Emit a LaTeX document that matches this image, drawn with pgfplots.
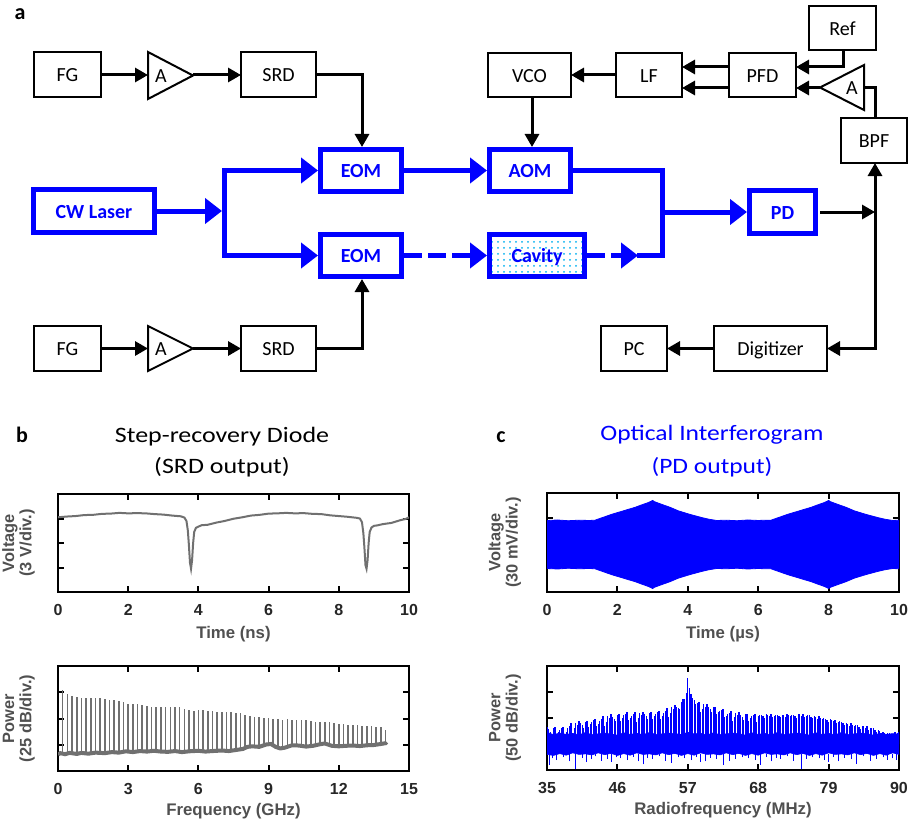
\documentclass[border=0pt]{standalone}
\usepackage{pgfplots}
\pgfplotsset{compat=1.18}
\usepackage{pgfplotstable}
\usepackage{fontspec}
\usepackage{graphicx}
\setmainfont{Carlito}
\newfontfamily\arial{Liberation Sans}
\usetikzlibrary{arrows.meta,patterns}
\definecolor{pblue}{RGB}{0,0,255}
\definecolor{sgray}{RGB}{112,112,112}
\definecolor{dotc}{RGB}{0,176,240}
\definecolor{labg}{RGB}{80,80,80}

\pgfplotstableread{
x y
0 3.05
0.25 3.08
0.5 3.10
0.75 3.14
1.0 3.15
1.25 3.19
1.5 3.20
1.75 3.23
2.0 3.21
2.25 3.22
2.5 3.21
2.75 3.18
3.0 3.16
3.25 3.12
3.5 3.09
3.6 3.04
3.66 2.90
3.70 2.50
3.73 1.90
3.76 1.20
3.79 0.95
3.82 1.30
3.85 2.00
3.88 2.45
3.93 2.62
4.0 2.67
4.1 2.73
4.25 2.74
4.5 2.83
4.75 2.90
5.0 2.99
5.25 3.05
5.5 3.12
5.75 3.15
6.0 3.20
6.25 3.21
6.5 3.23
6.75 3.21
7.0 3.22
7.25 3.19
7.5 3.18
7.75 3.13
8.0 3.10
8.25 3.07
8.5 3.03
8.6 3.00
8.66 2.85
8.70 2.40
8.73 1.80
8.76 1.10
8.79 0.95
8.82 1.30
8.85 2.00
8.88 2.45
8.93 2.63
9.0 2.70
9.1 2.72
9.25 2.77
9.5 2.82
9.75 2.93
9.9 2.98
10.0 3.05
}\srdtime

\pgfplotstableread{
x lo hi
0.2 0.66 3.10
0.4 0.66 2.93
0.6 0.66 2.86
0.8 0.66 2.82
1.0 0.67 2.80
1.2 0.68 2.79
1.4 0.68 2.78
1.6 0.69 2.77
1.8 0.69 2.77
2.0 0.70 2.74
2.2 0.71 2.72
2.4 0.71 2.70
2.6 0.72 2.68
2.8 0.73 2.62
3.0 0.74 2.55
3.2 0.74 2.55
3.4 0.75 2.54
3.6 0.75 2.52
3.8 0.75 2.48
4.0 0.76 2.42
4.2 0.76 2.42
4.4 0.75 2.44
4.6 0.74 2.45
4.8 0.74 2.45
5.0 0.75 2.44
5.2 0.74 2.42
5.4 0.73 2.36
5.6 0.74 2.32
5.8 0.76 2.30
6.0 0.77 2.34
6.2 0.75 2.33
6.4 0.75 2.30
6.6 0.76 2.27
6.8 0.77 2.26
7.0 0.78 2.25
7.2 0.77 2.25
7.4 0.77 2.24
7.6 0.80 2.22
7.8 0.82 2.20
8.0 0.86 2.12
8.2 0.92 2.09
8.4 0.94 2.07
8.6 0.93 2.05
8.8 0.99 2.03
9.0 1.02 2.03
9.2 0.96 2.00
9.4 0.88 1.97
9.6 0.87 1.96
9.8 0.93 1.97
10.0 0.97 1.96
10.2 0.97 1.96
10.4 0.96 1.95
10.6 0.94 1.93
10.8 0.95 1.90
11.0 0.98 1.88
11.2 1.02 1.88
11.4 1.04 1.86
11.6 0.97 1.85
11.8 0.95 1.83
12.0 0.94 1.80
12.2 0.95 1.79
12.4 0.95 1.77
12.6 0.97 1.76
12.8 0.96 1.74
13.0 0.96 1.73
13.2 0.98 1.71
13.4 0.99 1.70
13.6 1.00 1.68
13.8 1.03 1.66
14.0 1.06 1.57
}\srdcomb

\pgfplotstableread{
x y
0.0 0.63
0.1 0.68
0.3 0.64
0.5 0.69
0.8 0.65
1.0 0.69
1.3 0.66
1.6 0.70
2.0 0.68
2.3 0.72
2.6 0.70
2.9 0.75
3.2 0.72
3.5 0.76
3.8 0.74
4.1 0.77
4.4 0.74
4.7 0.73
5.0 0.76
5.3 0.72
5.6 0.75
6.0 0.77
6.3 0.74
6.6 0.76
7.0 0.78
7.3 0.76
7.6 0.80
7.9 0.84
8.1 0.92
8.3 0.94
8.6 0.92
8.9 1.01
9.1 1.03
9.3 0.92
9.5 0.86
9.7 0.89
10.0 0.98
10.3 0.97
10.6 0.93
10.9 0.96
11.2 1.02
11.4 1.05
11.7 0.96
12.0 0.94
12.3 0.96
12.6 0.97
12.9 0.95
13.2 0.98
13.5 0.99
13.8 1.03
14.0 1.06
14.05 1.10
}\srdfloor

\pgfplotstableread{
x lo hi
35.0 1.0 1.65
35.5 1.0 1.48
36.0 1.0 1.61
36.5 1.0 1.37
37.0 1.0 1.55
37.5 1.0 1.67
38.0 1.0 1.48
38.5 1.0 1.69
39.0 1.0 1.44
39.5 1.0 1.81
40.0 1.0 1.87
40.5 1.0 1.72
41.0 1.0 1.86
41.5 1.0 1.64
42.0 1.0 1.85
42.5 1.0 1.97
43.0 1.0 1.77
43.5 1.0 1.96
44.0 1.0 1.70
44.5 1.0 2.07
45.0 1.0 2.14
45.5 1.0 1.98
46.0 1.0 2.12
46.5 1.0 1.90
47.0 1.0 2.10
47.5 1.0 2.22
48.0 1.0 1.99
48.5 1.0 2.15
49.0 1.0 1.86
49.5 1.0 2.20
50.0 1.0 2.24
50.5 1.0 2.07
51.0 1.0 2.20
51.5 1.0 1.97
52.0 1.0 2.17
52.5 1.0 2.28
53.0 1.0 2.07
53.5 1.0 2.27
54.0 1.0 2.03
54.5 1.0 2.42
55.0 1.0 2.50
55.5 1.0 2.38
56.0 1.0 2.60
56.5 1.0 2.75
57.0 1.0 3.53
57.5 1.0 2.93
58.0 1.0 2.70
58.5 1.0 2.56
59.0 1.0 2.22
59.5 1.0 2.53
60.0 1.0 2.55
60.5 1.0 2.35
61.0 1.0 2.43
61.5 1.0 2.15
62.0 1.0 2.28
62.5 1.0 2.34
63.0 1.0 2.08
63.5 1.0 2.21
64.0 1.0 1.89
64.5 1.0 2.21
65.0 1.0 2.23
65.5 1.0 2.03
66.0 1.0 2.14
66.5 1.0 1.89
67.0 1.0 2.06
67.5 1.0 2.15
68.0 1.0 2.08
68.5 1.0 2.12
69.0 1.0 2.01
69.5 1.0 2.13
70.0 1.0 2.14
70.5 1.0 2.09
71.0 1.0 2.12
71.5 1.0 2.05
72.0 1.0 2.11
72.5 1.0 2.15
73.0 1.0 2.07
73.5 1.0 2.12
74.0 1.0 2.01
74.5 1.0 2.14
75.0 1.0 2.14
75.5 1.0 2.08
76.0 1.0 2.10
76.5 1.0 2.00
77.0 1.0 2.04
77.5 1.0 2.06
78.0 1.0 1.96
78.5 1.0 1.98
79.0 1.0 1.84
79.5 1.0 1.94
80.0 1.0 1.93
80.5 1.0 1.85
81.0 1.0 1.85
81.5 1.0 1.75
82.0 1.0 1.78
82.5 1.0 1.80
83.0 1.0 1.69
83.5 1.0 1.72
84.0 1.0 1.58
84.5 1.0 1.69
85.0 1.0 1.68
85.5 1.0 1.61
86.0 1.0 1.60
86.5 1.0 1.48
87.0 1.0 1.49
87.5 1.0 1.48
88.0 1.0 1.38
88.5 1.0 1.43
89.0 1.0 1.32
89.5 1.0 1.45
90.0 1.0 1.47
35.25 1.0 1.56
35.75 1.0 1.39
36.25 1.0 1.64
36.75 1.0 1.47
37.25 1.0 1.61
37.75 1.0 1.38
38.25 1.0 1.61
38.75 1.0 1.79
39.25 1.0 1.60
39.75 1.0 1.74
40.25 1.0 1.79
40.75 1.0 1.63
41.25 1.0 1.90
41.75 1.0 1.76
42.25 1.0 1.91
42.75 1.0 1.68
43.25 1.0 1.89
43.75 1.0 2.06
44.25 1.0 1.86
44.75 1.0 2.01
45.25 1.0 2.05
45.75 1.0 1.89
46.25 1.0 2.16
46.75 1.0 2.01
47.25 1.0 2.16
47.75 1.0 1.91
48.25 1.0 2.09
48.75 1.0 2.23
49.25 1.0 2.00
49.75 1.0 2.12
50.25 1.0 2.15
50.75 1.0 1.98
51.25 1.0 2.24
51.75 1.0 2.08
52.25 1.0 2.23
52.75 1.0 1.98
53.25 1.0 2.19
53.75 1.0 2.38
54.25 1.0 2.20
54.75 1.0 2.36
55.25 1.0 2.43
55.75 1.0 2.33
56.25 1.0 2.72
56.75 1.0 2.95
57.25 1.0 3.15
57.75 1.0 2.78
58.25 1.0 2.55
58.75 1.0 2.61
59.25 1.0 2.35
59.75 1.0 2.44
60.25 1.0 2.44
60.75 1.0 2.23
61.25 1.0 2.44
61.75 1.0 2.23
62.25 1.0 2.31
62.75 1.0 2.02
63.25 1.0 2.17
63.75 1.0 2.28
64.25 1.0 2.02
64.75 1.0 2.12
65.25 1.0 2.12
65.75 1.0 1.93
66.25 1.0 2.17
66.75 1.0 1.99
67.25 1.0 2.11
67.75 1.0 1.84
68.25 1.0 2.12
68.75 1.0 2.06
69.25 1.0 2.14
69.75 1.0 2.08
70.25 1.0 2.02
70.75 1.0 2.12
71.25 1.0 2.08
71.75 1.0 2.12
72.25 1.0 2.05
72.75 1.0 2.10
73.25 1.0 2.11
73.75 1.0 2.06
74.25 1.0 2.14
74.75 1.0 2.09
75.25 1.0 2.02
75.75 1.0 2.11
76.25 1.0 2.04
76.75 1.0 2.06
77.25 1.0 1.97
77.75 1.0 2.00
78.25 1.0 1.99
78.75 1.0 1.91
79.25 1.0 1.96
79.75 1.0 1.88
80.25 1.0 1.80
80.75 1.0 1.87
81.25 1.0 1.79
81.75 1.0 1.81
82.25 1.0 1.71
82.75 1.0 1.74
83.25 1.0 1.72
83.75 1.0 1.65
84.25 1.0 1.70
84.75 1.0 1.63
85.25 1.0 1.55
85.75 1.0 1.62
86.25 1.0 1.53
86.75 1.0 1.53
87.25 1.0 1.41
87.75 1.0 1.42
88.25 1.0 1.42
88.75 1.0 1.37
89.25 1.0 1.45
89.75 1.0 1.41
}\pdcomb

\pgfplotstableread{
x lo hi
35.4 0.19 0.62
35.9 0.45 0.62
36.5 0.38 0.62
37.5 0.50 0.62
38.5 0.33 0.62
39.5 0.02 0.62
40.5 0.47 0.62
41.2 0.30 0.62
41.9 0.42 0.62
42.5 0.52 0.62
43.5 0.36 0.62
44.5 0.44 0.62
45.1 0.30 0.62
45.9 0.49 0.62
46.5 0.45 0.62
47.5 0.38 0.62
48.5 0.50 0.62
49.3 0.33 0.62
50.0 0.22 0.62
50.7 0.47 0.62
51.5 0.42 0.62
52.5 0.52 0.62
53.5 0.36 0.62
54.5 0.28 0.62
55.5 0.49 0.62
56.5 0.45 0.62
57.5 0.38 0.62
58.3 0.50 0.62
59.0 0.30 0.62
59.8 0.33 0.62
60.5 0.47 0.62
61.5 0.42 0.62
62.5 0.19 0.62
63.5 0.36 0.62
64.5 0.44 0.62
65.5 0.49 0.62
66.5 0.45 0.62
67.5 0.38 0.62
68.4 0.19 0.62
69.3 0.50 0.62
70.1 0.33 0.62
70.8 0.47 0.62
71.5 0.42 0.62
72.5 0.52 0.62
73.5 0.36 0.62
74.7 0.02 0.62
75.5 0.44 0.62
76.5 0.49 0.62
77.5 0.45 0.62
78.3 0.38 0.62
79.0 0.30 0.62
79.8 0.50 0.62
80.5 0.33 0.62
81.5 0.47 0.62
82.5 0.42 0.62
83.4 0.25 0.62
84.5 0.52 0.62
85.5 0.36 0.62
86.5 0.44 0.62
87.5 0.49 0.62
88.2 0.40 0.62
89.0 0.45 0.62
89.6 0.38 0.62
}\pddown

\pgfplotsset{
  panel/.style={
    scale only axis, anchor=south west,
    axis line style={line width=1pt},
    every tick/.style={line width=1pt, black},
    major tick length=3pt,
    tick align=inside,
    ymin=0, ymax=4, ytick={1,2,3}, yticklabels={},
    xticklabel style={font=\arial\bfseries\fontsize{8}{9}\selectfont, text=black!85, anchor=center, yshift=-9pt},
    xlabel style={font=\arial\bfseries\fontsize{8.4}{9}\selectfont, text=labg, at={(axis description cs:0.5,0)}, anchor=center},
    ylabel style={font=\arial\bfseries\fontsize{8.2}{8.6}\selectfont, text=labg, align=center, anchor=south},
  },
}

\begin{document}
\begin{tikzpicture}[font=\fontsize{10}{12}\selectfont]
\path[use as bounding box] (0,0) rectangle (455pt,-412pt);

\begin{scope}[x=0.5pt,y=-0.5pt,
  lab/.style={text height=0.62em, text depth=0pt, inner sep=0pt},
  bk/.style={line width=1.5pt, -{Triangle[length=6.5pt,width=7pt]}},
  bln/.style={draw=pblue, line width=2.5pt},
  ba/.style={draw=pblue, line width=2.5pt, -{Triangle[length=8.5pt,width=12.5pt]}},
  bb/.style={draw=pblue, line width=2.5pt},
  kb/.style={line width=1pt}]

% panel letters
\node[font=\fontsize{11}{13}\selectfont\bfseries] at (20,14) {a};
\node[font=\fontsize{11}{13}\selectfont\bfseries] at (22,435) {b};
\node[font=\fontsize{11}{13}\selectfont\bfseries] at (501,437) {c};

% titles
\node at (222,437) {\fontsize{11}{13}\selectfont\scalebox{1.18}[1]{Step-recovery Diode}};
\node at (222,467) {\fontsize{11}{13}\selectfont\scalebox{1.18}[1]{(SRD output)}};
\node[text=pblue] at (712,435) {\fontsize{11}{13}\selectfont\scalebox{1.16}[1]{Optical Interferogram}};
\node[text=pblue] at (712,467) {\fontsize{11}{13}\selectfont\scalebox{1.16}[1]{(PD output)}};

% blue optical paths
\draw[ba] (157,211) -- (222,211);
\draw[ba] (224,213) -- (224,170.5) -- (318,170.5);
\draw[ba] (224,210) -- (224,255.5) -- (318,255.5);
\draw[ba] (404,170.5) -- (487,170.5);
\draw[bln] (573,170.5) -- (662,170.5) -- (662,255.5) -- (637,255.5);
\draw[ba] (662,212) -- (747,212);
\draw[ba, dash pattern=on 9pt off 3pt] (404,255.5) -- (487,255.5);
\draw[ba, dash pattern=on 9pt off 3pt] (587,255.5) -- (638,255.5);

% blue boxes
\draw[bb] (33.5,189.5) rectangle (154.5,232.5);
\node[lab, text=pblue, font=\fontsize{10}{12}\selectfont\bfseries] at (94,212) {CW Laser};
\draw[bb] (320.5,149.5) rectangle (401.5,191.5);
\node[lab, text=pblue, font=\fontsize{10}{12}\selectfont\bfseries] at (361,171.5) {EOM};
\draw[bb] (320.5,234.5) rectangle (401.5,276.5);
\node[lab, text=pblue, font=\fontsize{10}{12}\selectfont\bfseries] at (361,256.5) {EOM};
\draw[bb] (489.5,149.5) rectangle (570.5,191.5);
\node[lab, text=pblue, font=\fontsize{10}{12}\selectfont\bfseries] at (530,171.5) {AOM};
\fill[white] (489.5,234.5) rectangle (584.5,276.5);
\fill[pattern=dots, pattern color=dotc] (489.5,234.5) rectangle (584.5,276.5);
\draw[bb] (489.5,234.5) rectangle (584.5,276.5);
\node[lab, text=pblue, font=\fontsize{10}{12}\selectfont\bfseries] at (537,256.5) {Cavity};
\draw[bb] (749.5,190.5) rectangle (815.5,233.5);
\node[lab, text=pblue, font=\fontsize{10}{12}\selectfont\bfseries] at (782.5,213) {PD};

% black boxes
\draw[kb] (34,52) rectangle (101,97);   \node[lab] at (67.5,75.5) {FG};
\draw[kb] (241,52) rectangle (316,97);  \node[lab] at (278.5,75.5) {SRD};
\draw[kb] (34,326) rectangle (101,371); \node[lab] at (67.5,349.5) {FG};
\draw[kb] (241,326) rectangle (316,371);\node[lab] at (278.5,349.5) {SRD};
\draw[kb] (488,53) rectangle (571,97);  \node[lab] at (529.5,76) {VCO};
\draw[kb] (616,53) rectangle (682,97);  \node[lab] at (649,76) {LF};
\draw[kb] (729,53) rectangle (796,97);  \node[lab] at (762.5,76) {PFD};
\draw[kb] (809,6) rectangle (876,50);   \node[lab] at (842.5,29) {Ref};
\draw[kb] (841,118) rectangle (907,163);\node[lab] at (874,141.5) {BPF};
\draw[kb] (601,326) rectangle (667,371);\node[lab] at (634,349.5) {PC};
\draw[kb] (714,326) rectangle (827,371);\node[lab] at (770.5,349.5) {Digitizer};

% amplifiers
\draw[kb, line join=miter] (148,52) -- (148,99) -- (193,75.5) -- cycle; \node[lab] at (161,76) {A};
\draw[kb, line join=miter] (148,326) -- (148,371) -- (193,348.5) -- cycle; \node[lab] at (161,349.5) {A};
\draw[kb, line join=miter] (864,65) -- (864,110) -- (820,87.5) -- cycle; \node[lab] at (852,88.5) {A};

% black electrical paths
\draw[bk] (101,75) -- (148,75);
\draw[bk] (193,75) -- (241,75);
\draw[bk] (316,75) -- (362,75) -- (362,147);
\draw[bk] (101,348.5) -- (148,348.5);
\draw[bk] (193,348.5) -- (241,348.5);
\draw[bk] (316,348.5) -- (362,348.5) -- (362,279);
\draw[bk] (532,97) -- (532,147);
\draw[bk] (616,75) -- (571,75);
\draw[bk] (729,67) -- (682,67);
\draw[bk] (729,88) -- (682,88);
\draw[bk] (843,50) -- (843,67) -- (796,67);
\draw[bk] (820,88) -- (796,88);
\draw[line width=1.5pt] (875,118) -- (875,88) -- (864,88);
\draw[bk] (820,212) -- (875,212);
\draw[line width=1.5pt, {Triangle[length=6.5pt,width=7pt]}-{Triangle[length=6.5pt,width=7pt]}] (827,348.5) -- (875,348.5) -- (875,163);
\draw[bk] (714,348.5) -- (667,348.5);
\end{scope}

% ---------- panel b, time domain
\begin{axis}[panel, at={(29pt,-296pt)}, width=175.5pt, height=49pt,
  xmin=0, xmax=10, xtick={0,2,4,6,8,10}, xticklabels={0,2,4,6,8,10},
  xlabel={Time (ns)}, xlabel style={yshift=-21pt},
  ylabel={Voltage\\(3 V/div.)}, ylabel style={at={(axis description cs:-0.046,0.5)}}]
\addplot[sgray, line width=1pt] table[x=x,y=y] {\srdtime};
\end{axis}

% ---------- panel b, spectrum
\begin{axis}[panel, at={(29pt,-385.5pt)}, width=175.5pt, height=52.5pt,
  xmin=0, xmax=15, xtick={0,3,6,9,12,15}, xticklabels={0,3,6,9,12,15},
  xlabel={Frequency (GHz)}, xlabel style={yshift=-20pt},
  ylabel={Power\\(25 dB/div.)}, ylabel style={at={(axis description cs:-0.046,0.5)}}]
\addplot[draw=none, mark=none, error bars/.cd, y dir=plus, y explicit, error mark=none,
  error bar style={draw=sgray, line width=0.8pt, solid}]
  table[x=x, y=lo, y error plus expr=\thisrow{hi}-\thisrow{lo}] {\srdcomb};
\addplot[sgray, line width=2pt] table[x=x,y=y] {\srdfloor};
\end{axis}

% ---------- panel c, time domain
\begin{axis}[panel, at={(273.5pt,-296pt)}, width=176pt, height=49.5pt,
  xmin=0, xmax=10, xtick={0,2,4,6,8,10}, xticklabels={0,2,4,6,8,10},
  xlabel={Time (µs)}, xlabel style={yshift=-21pt},
  ylabel={Voltage\\(30 mV/div.)}, ylabel style={at={(axis description cs:-0.054,0.5)}}]
\addplot[fill=pblue, draw=pblue, line width=0.4pt] coordinates {
(0,2.89) (0.3,2.91) (0.6,2.88) (0.9,2.90) (1.2,2.89) (1.36,2.90) (1.6,3.02) (1.84,3.14)
(2.1,3.25) (2.31,3.34) (2.5,3.42) (2.69,3.52) (2.85,3.60) (2.95,3.66) (3.0,3.70) (3.05,3.65)
(3.3,3.52) (3.5,3.42) (3.73,3.28) (4.05,3.14) (4.39,3.01) (4.6,2.94) (4.82,2.89) (5.1,2.90)
(5.4,2.88) (5.7,2.91) (6.0,2.89) (6.2,2.90) (6.36,2.90) (6.6,3.02) (6.84,3.14) (7.1,3.25)
(7.31,3.34) (7.5,3.42) (7.69,3.52) (7.85,3.60) (7.95,3.66) (8.0,3.70) (8.05,3.65) (8.3,3.52)
(8.5,3.42) (8.73,3.28) (9.05,3.14) (9.39,3.01) (9.6,2.94) (9.82,2.89) (10.0,2.90)
(10.0,0.94) (9.82,0.95) (9.6,0.90) (9.39,0.83) (9.05,0.70) (8.73,0.56) (8.5,0.42) (8.3,0.32)
(8.05,0.19) (8.0,0.14) (7.95,0.18) (7.85,0.24) (7.69,0.32) (7.5,0.42) (7.31,0.50) (7.1,0.59)
(6.84,0.70) (6.6,0.82) (6.36,0.94) (6.2,0.94) (6.0,0.95) (5.7,0.93) (5.4,0.96) (5.1,0.94)
(4.82,0.95) (4.6,0.90) (4.39,0.83) (4.05,0.70) (3.73,0.56) (3.5,0.42) (3.3,0.32) (3.05,0.19)
(3.0,0.14) (2.95,0.18) (2.85,0.24) (2.69,0.32) (2.5,0.42) (2.31,0.50) (2.1,0.59) (1.84,0.70)
(1.6,0.82) (1.36,0.94) (1.2,0.95) (0.9,0.94) (0.6,0.96) (0.3,0.93) (0.0,0.95)
} -- cycle;
\end{axis}

% ---------- panel c, spectrum
\begin{axis}[panel, at={(273.5pt,-385pt)}, width=176pt, height=52pt,
  xmin=35, xmax=90, xtick={35,46,57,68,79,90}, xticklabels={35,46,57,68,79,90},
  xlabel={Radiofrequency (MHz)}, xlabel style={yshift=-20pt},
  ylabel={Power\\(50 dB/div.)}, ylabel style={at={(axis description cs:-0.054,0.5)}}]
\addplot[fill=pblue, draw=pblue, line width=0.3pt] coordinates {
(35,1.45) (36,1.36) (37,1.42) (38,1.37) (39,1.41) (40,1.35) (41,1.44) (42,1.36) (43,1.39) (44,1.42)
(45,1.38) (46,1.34) (47,1.43) (48,1.37) (49,1.41) (50,1.36) (51,1.44) (52,1.37) (53,1.39) (54,1.42)
(55,1.40) (56,1.36) (57,1.45) (58,1.39) (59,1.41) (60,1.35) (61,1.43) (62,1.36) (63,1.39) (64,1.42)
(65,1.40) (66,1.34) (67,1.43) (68,1.37) (69,1.41) (70,1.35) (71,1.44) (72,1.36) (73,1.39) (74,1.42)
(75,1.40) (76,1.34) (77,1.43) (78,1.37) (79,1.41) (80,1.35) (81,1.44) (82,1.36) (83,1.39) (84,1.42)
(85,1.40) (86,1.34) (87,1.41) (88,1.37) (89,1.40) (90,1.38)
(90,0.60) (89,0.66) (88,0.57) (87,0.63) (86,0.56) (85,0.64) (84,0.59) (83,0.66) (82,0.58) (81,0.62)
(80,0.60) (79,0.66) (78,0.57) (77,0.63) (76,0.56) (75,0.64) (74,0.59) (73,0.66) (72,0.58) (71,0.62)
(70,0.60) (69,0.66) (68,0.57) (67,0.63) (66,0.56) (65,0.64) (64,0.59) (63,0.66) (62,0.58) (61,0.62)
(60,0.60) (59,0.66) (58,0.57) (57,0.63) (56,0.56) (55,0.64) (54,0.59) (53,0.66) (52,0.58) (51,0.62)
(50,0.60) (49,0.66) (48,0.57) (47,0.63) (46,0.56) (45,0.64) (44,0.59) (43,0.66) (42,0.58) (41,0.62)
(40,0.60) (39,0.66) (38,0.57) (37,0.63) (36,0.56) (35,0.60)
} -- cycle;
\addplot[draw=none, mark=none, error bars/.cd, y dir=plus, y explicit, error mark=none,
  error bar style={draw=pblue, line width=0.55pt, solid}]
  table[x=x, y=lo, y error plus expr=\thisrow{hi}-\thisrow{lo}] {\pdcomb};
\addplot[draw=none, mark=none, error bars/.cd, y dir=plus, y explicit, error mark=none,
  error bar style={draw=pblue, line width=0.5pt, solid}]
  table[x=x, y=lo, y error plus expr=\thisrow{hi}-\thisrow{lo}] {\pddown};
\end{axis}
\end{tikzpicture}
\end{document}
